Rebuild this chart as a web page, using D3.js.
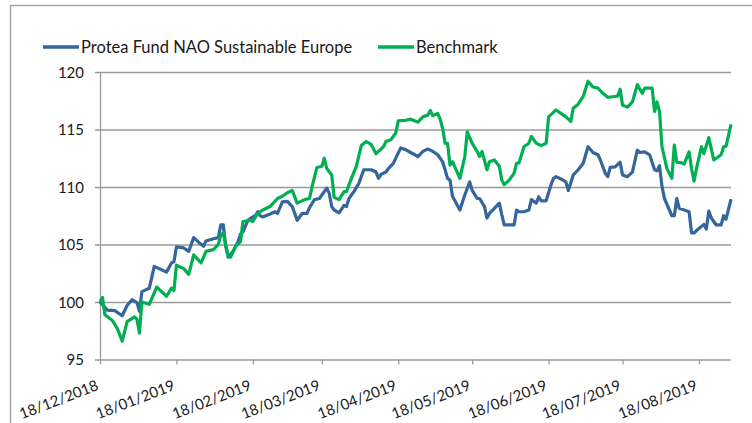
<!DOCTYPE html>
<html>
<head>
<meta charset="utf-8">
<script src="https://cdn.jsdelivr.net/npm/d3@7"></script>
<style>
  body { margin: 0; background: #fff; }
  svg { display: block; font-family: Lato, "Open Sans", sans-serif; }
</style>
</head>
<body>
<svg id="chart"></svg>
<script>
const width = 752;
const height = 423;

const seriesNames = ["Protea Fund NAO Sustainable Europe", "Benchmark"];
const seriesColors = ["#34659c", "#00b050"];

const yTicks = [95, 100, 105, 110, 115, 120];
const xTicks = ["2018-12-18", "2019-01-18", "2019-02-18", "2019-03-18", "2019-04-18",
    "2019-05-18", "2019-06-18", "2019-07-18", "2019-08-18"];

const fund = [
    ["2018-12-18",100.0],["2018-12-21",99.3],["2018-12-24",99.25],["2018-12-27",98.8],
    ["2018-12-29",99.7],["2018-12-31",100.2],["2019-01-02",99.95],["2019-01-03",99.2],
    ["2019-01-04",100.9],["2019-01-07",101.2],["2019-01-09",103.1],["2019-01-12",102.8],
    ["2019-01-14",102.6],["2019-01-16",103.4],["2019-01-17",103.5],["2019-01-18",104.8],
    ["2019-01-21",104.7],["2019-01-23",104.4],["2019-01-25",105.6],["2019-01-27",105.2],
    ["2019-01-29",104.85],["2019-01-30",105.3],["2019-02-02",105.5],["2019-02-04",105.6],
    ["2019-02-05",106.7],["2019-02-06",106.7],["2019-02-07",104.85],["2019-02-08",103.9],
    ["2019-02-10",104.4],["2019-02-12",105.25],["2019-02-13",105.9],["2019-02-14",106.1],
    ["2019-02-16",107.1],["2019-02-18",107.4],["2019-02-19",107.5],["2019-02-20",107.85],
    ["2019-02-21",107.5],["2019-02-22",107.4],["2019-02-25",107.65],["2019-02-27",107.85],
    ["2019-02-28",107.7],["2019-03-02",108.7],["2019-03-04",108.75],["2019-03-06",108.3],
    ["2019-03-08",107.1],["2019-03-10",107.7],["2019-03-12",107.7],["2019-03-13",108.2],
    ["2019-03-15",108.9],["2019-03-17",109.0],["2019-03-20",109.9],["2019-03-21",109.45],
    ["2019-03-22",108.3],["2019-03-23",108.0],["2019-03-25",107.75],["2019-03-27",108.4],
    ["2019-03-28",108.3],["2019-03-29",109.0],["2019-03-31",109.6],["2019-04-02",110.3],
    ["2019-04-04",111.5],["2019-04-07",111.5],["2019-04-09",111.3],["2019-04-10",110.75],
    ["2019-04-11",111.1],["2019-04-13",111.3],["2019-04-14",111.6],["2019-04-16",112.05],
    ["2019-04-19",113.4],["2019-04-21",113.25],["2019-04-23",113.0],["2019-04-26",112.65],
    ["2019-04-28",113.1],["2019-04-30",113.3],["2019-05-02",113.1],["2019-05-04",112.8],
    ["2019-05-06",112.2],["2019-05-07",111.5],["2019-05-08",110.75],["2019-05-09",110.6],
    ["2019-05-10",109.2],["2019-05-13",108.0],["2019-05-15",109.3],["2019-05-17",110.45],
    ["2019-05-18",109.7],["2019-05-20",109.0],["2019-05-21",109.0],["2019-05-23",108.3],
    ["2019-05-24",107.3],["2019-05-25",107.7],["2019-05-27",108.15],["2019-05-29",108.6],
    ["2019-05-30",107.6],["2019-05-31",106.7],["2019-06-02",106.7],["2019-06-04",106.7],
    ["2019-06-05",108.0],["2019-06-06",107.85],["2019-06-08",107.85],["2019-06-10",108.0],
    ["2019-06-11",108.9],["2019-06-13",108.6],["2019-06-14",109.15],["2019-06-15",108.8],
    ["2019-06-17",108.8],["2019-06-19",110.2],["2019-06-20",110.75],["2019-06-21",110.9],
    ["2019-06-23",110.7],["2019-06-25",110.45],["2019-06-26",109.7],["2019-06-28",111.05],
    ["2019-06-30",111.5],["2019-07-02",112.05],["2019-07-04",113.5],["2019-07-06",113.0],
    ["2019-07-08",112.8],["2019-07-09",112.35],["2019-07-11",111.2],["2019-07-12",110.9],
    ["2019-07-13",111.7],["2019-07-15",111.75],["2019-07-17",112.15],["2019-07-18",111.05],
    ["2019-07-20",110.9],["2019-07-22",111.3],["2019-07-24",113.2],["2019-07-25",113.0],
    ["2019-07-27",113.05],["2019-07-29",112.8],["2019-07-31",111.5],["2019-08-01",111.4],
    ["2019-08-02",111.85],["2019-08-03",110.05],["2019-08-04",109.0],["2019-08-07",107.5],
    ["2019-08-08",107.5],["2019-08-09",109.0],["2019-08-10",108.15],["2019-08-12",108.0],
    ["2019-08-14",107.85],["2019-08-15",106.0],["2019-08-16",106.0],["2019-08-18",106.4],
    ["2019-08-20",106.75],["2019-08-21",106.35],["2019-08-22",107.9],["2019-08-23",107.3],
    ["2019-08-25",106.7],["2019-08-27",106.7],["2019-08-28",107.5],["2019-08-29",107.2],
    ["2019-08-31",108.95]
];

const bench = [
    ["2018-12-18",100.0],["2018-12-19",100.4],["2018-12-20",98.9],["2018-12-23",98.4],
    ["2018-12-25",97.7],["2018-12-27",96.6],["2018-12-29",98.3],["2019-01-01",98.7],
    ["2019-01-02",98.5],["2019-01-03",97.3],["2019-01-04",100.0],["2019-01-07",99.8],
    ["2019-01-10",101.3],["2019-01-14",100.5],["2019-01-16",101.2],["2019-01-17",101.0],
    ["2019-01-18",103.2],["2019-01-21",102.9],["2019-01-23",102.4],["2019-01-25",104.1],
    ["2019-01-28",103.4],["2019-01-30",104.4],["2019-02-02",104.55],["2019-02-04",105.0],
    ["2019-02-05",105.8],["2019-02-06",106.0],["2019-02-08",103.95],["2019-02-09",103.9],
    ["2019-02-11",104.85],["2019-02-13",105.25],["2019-02-14",107.0],["2019-02-17",107.1],
    ["2019-02-18",107.0],["2019-02-20",107.7],["2019-02-22",108.0],["2019-02-24",108.2],
    ["2019-02-25",108.3],["2019-02-28",109.0],["2019-03-02",109.2],["2019-03-04",109.5],
    ["2019-03-06",109.7],["2019-03-08",108.6],["2019-03-11",108.9],["2019-03-13",109.0],
    ["2019-03-14",110.0],["2019-03-16",111.7],["2019-03-18",111.8],["2019-03-19",112.5],
    ["2019-03-20",111.6],["2019-03-22",111.05],["2019-03-23",109.1],["2019-03-25",108.9],
    ["2019-03-27",109.6],["2019-03-28",109.6],["2019-03-30",110.75],["2019-04-01",111.8],
    ["2019-04-03",113.6],["2019-04-05",113.95],["2019-04-07",113.7],["2019-04-09",112.9],
    ["2019-04-12",113.5],["2019-04-13",113.95],["2019-04-15",114.1],["2019-04-17",114.7],
    ["2019-04-18",115.75],["2019-04-21",115.8],["2019-04-23",115.9],["2019-04-26",115.65],
    ["2019-04-28",116.1],["2019-04-30",116.25],["2019-05-01",116.65],["2019-05-02",116.2],
    ["2019-05-04",116.4],["2019-05-05",115.9],["2019-05-06",115.1],["2019-05-07",113.8],
    ["2019-05-08",113.8],["2019-05-09",111.9],["2019-05-10",112.2],["2019-05-13",110.75],
    ["2019-05-15",112.65],["2019-05-16",114.8],["2019-05-18",113.8],["2019-05-20",113.1],
    ["2019-05-21",112.65],["2019-05-22",113.1],["2019-05-24",111.5],["2019-05-25",112.2],
    ["2019-05-27",112.35],["2019-05-29",111.8],["2019-05-30",110.6],["2019-05-31",110.2],
    ["2019-06-02",110.6],["2019-06-04",111.2],["2019-06-05",112.05],["2019-06-06",112.1],
    ["2019-06-08",113.5],["2019-06-10",113.8],["2019-06-11",114.4],["2019-06-13",113.8],
    ["2019-06-15",113.6],["2019-06-17",113.8],["2019-06-18",116.1],["2019-06-21",116.7],
    ["2019-06-23",116.4],["2019-06-25",116.1],["2019-06-27",115.7],["2019-06-28",116.85],
    ["2019-06-30",117.2],["2019-07-02",117.85],["2019-07-04",119.2],["2019-07-06",118.7],
    ["2019-07-08",118.6],["2019-07-10",118.15],["2019-07-12",117.8],["2019-07-14",117.85],
    ["2019-07-16",117.9],["2019-07-17",118.5],["2019-07-18",117.1],["2019-07-20",116.95],
    ["2019-07-22",117.4],["2019-07-24",118.9],["2019-07-26",118.15],["2019-07-27",118.6],
    ["2019-07-30",118.6],["2019-07-31",116.55],["2019-08-01",117.4],["2019-08-02",116.55],
    ["2019-08-03",113.5],["2019-08-05",111.6],["2019-08-07",110.75],["2019-08-08",113.65],
    ["2019-08-09",112.15],["2019-08-11",112.1],["2019-08-12",112.0],["2019-08-14",113.05],
    ["2019-08-15",111.6],["2019-08-16",110.5],["2019-08-17",111.6],["2019-08-19",113.5],
    ["2019-08-20",112.9],["2019-08-22",114.3],["2019-08-24",112.35],["2019-08-26",112.65],
    ["2019-08-27",112.8],["2019-08-28",113.5],["2019-08-29",113.55],["2019-08-31",115.45]
];

const parse = d3.timeParse("%Y-%m-%d");
const fmt = d3.timeFormat("%d/%m/%Y");

const x = d3.scaleTime()
    .domain([parse("2018-12-18"), parse("2019-08-31")])
    .range([100, 731]);
const y = d3.scaleLinear().domain([95, 120]).range([359.5, 72]);

const svg = d3.select("#chart")
    .attr("width", width)
    .attr("height", height);

// outer chart frame (only top and left edges are visible)
svg.append("path")
    .attr("d", `M10.5,${height} V5.5 H${width}`)
    .attr("fill", "none")
    .attr("stroke", "#a9a9a9")
    .attr("stroke-width", 1.5);

// y axis with gridlines
const yAxis = svg.append("g")
    .attr("transform", "translate(100,0)")
    .call(d3.axisLeft(y).tickValues(yTicks).tickSizeOuter(0));
yAxis.select(".domain").attr("stroke", "#9a9a9a").attr("stroke-width", 1.3);
yAxis.selectAll(".tick line")
    .attr("x1", -5).attr("x2", 631)
    .attr("stroke", "#9a9a9a").attr("stroke-width", 1.3);
yAxis.selectAll(".tick text")
    .attr("x", -16)
    .attr("dy", "0.36em")
    .attr("fill", "#1a1a1a")
    .style("font-size", "15px")
    .style("font-family", "Lato, sans-serif");

// x axis
const xAxis = svg.append("g")
    .attr("transform", `translate(0,${y(95)})`)
    .call(d3.axisBottom(x).tickValues(xTicks.map(parse)).tickFormat(fmt).tickSize(5).tickSizeOuter(0));
xAxis.select(".domain").remove();
xAxis.selectAll(".tick line").attr("stroke", "#9a9a9a").attr("stroke-width", 1.3);
xAxis.selectAll(".tick text")
    .attr("x", 0).attr("y", 0).attr("dy", 0)
    .attr("text-anchor", "end")
    .attr("transform", "translate(-1,30) rotate(-21)")
    .attr("fill", "#1a1a1a")
    .style("font-size", "15px")
    .style("font-family", "Lato, sans-serif");

// series lines
const line = d3.line()
    .x(d => x(parse(d[0])))
    .y(d => y(d[1]));

[fund, bench].forEach((series, i) => {
    svg.append("path")
        .datum(series)
        .attr("fill", "none")
        .attr("stroke", seriesColors[i])
        .attr("stroke-width", 3.2)
        .attr("stroke-linejoin", "round")
        .attr("d", line);
});

// legend
const legendX = [43, 378];
const legend = svg.selectAll(".legend")
    .data(seriesNames)
    .join("g")
    .attr("class", "legend")
    .attr("transform", (d, i) => `translate(${legendX[i]},47)`);
legend.append("line")
    .attr("x1", 0).attr("x2", 36)
    .attr("stroke", (d, i) => seriesColors[i])
    .attr("stroke-width", 3.5);
legend.append("text")
    .attr("x", 38)
    .attr("dy", "0.36em")
    .attr("fill", "#1a1a1a")
    .style("font-size", "16.5px")
    .text(d => d);
</script>
</body>
</html>
